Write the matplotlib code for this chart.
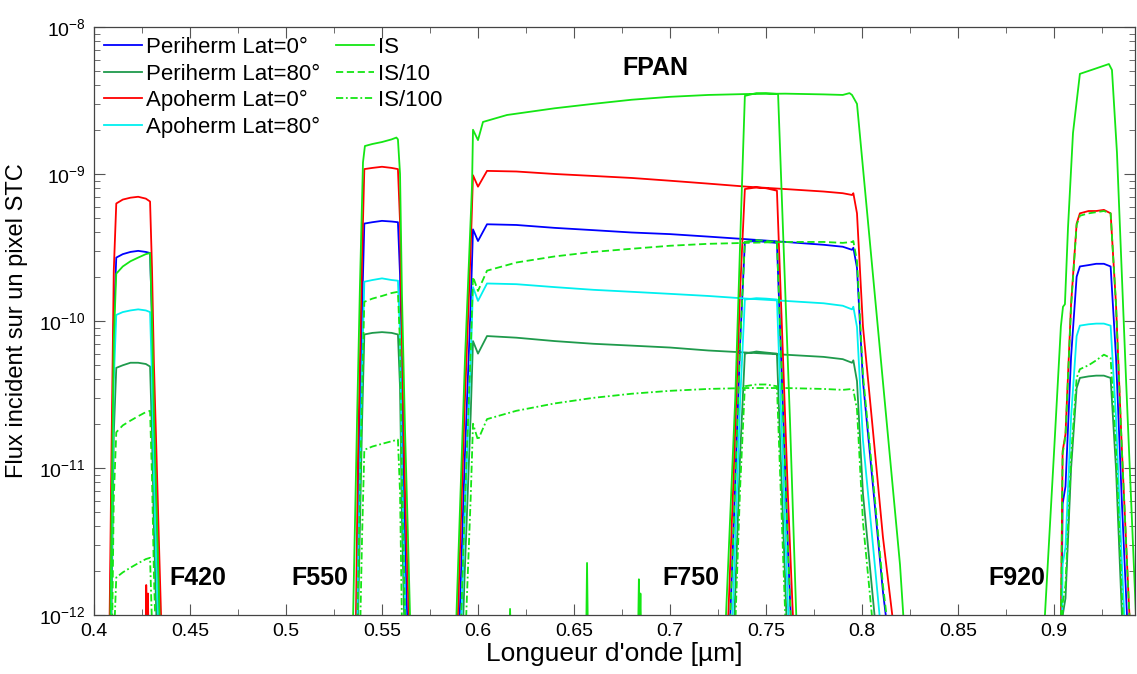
import numpy as np
import matplotlib
matplotlib.use("Agg")
import matplotlib.pyplot as plt
from matplotlib.ticker import MultipleLocator, FormatStrFormatter, LogLocator, NullFormatter

plt.rcParams['font.family'] = ['Liberation Sans', 'DejaVu Sans']
plt.rcParams['mathtext.fontset'] = 'custom'
plt.rcParams['mathtext.rm'] = 'Liberation Sans'
plt.rcParams['mathtext.it'] = 'Liberation Sans:italic'
plt.rcParams['mathtext.bf'] = 'Liberation Sans:bold'

# ---- F420 band (shared wavelength grid, micron) ----
f420_x = [0.4078, 0.4092, 0.4103, 0.4116, 0.4150, 0.4190, 0.4230, 0.4270, 0.4292, 0.4302, 0.4312, 0.4325, 0.4340, 0.4358]
f420_peri0 = [1.7e-13, 6.8e-12, 9.6e-11, 2.7e-10, 2.85e-10, 2.95e-10, 3.0e-10, 2.95e-10, 2.9e-10, 1.03e-10, 2.3e-11, 5.8e-12, 1.16e-12, 1.7e-13]
f420_peri80 = [3e-14, 1.2e-12, 1.7e-11, 4.8e-11, 5.0e-11, 5.2e-11, 5.2e-11, 5.1e-11, 4.9e-11, 1.74e-11, 3.9e-12, 9.8e-13, 2e-13, 3e-14]
f420_apo0 = [4e-13, 1.6e-11, 2.2e-10, 6.3e-10, 6.7e-10, 6.9e-10, 7.0e-10, 6.8e-10, 6.5e-10, 2.3e-10, 5.2e-11, 1.3e-11, 2.6e-12, 4e-13]
f420_apo80 = [7e-14, 2.8e-12, 3.9e-11, 1.1e-10, 1.15e-10, 1.18e-10, 1.2e-10, 1.18e-10, 1.15e-10, 4.1e-11, 9.1e-12, 2.3e-12, 4.6e-13, 7e-14]
f420_is = [1.3e-13, 5.3e-12, 7.5e-11, 2.1e-10, 2.35e-10, 2.55e-10, 2.7e-10, 2.85e-10, 2.9e-10, 1.03e-10, 2.3e-11, 5.8e-12, 1.16e-12, 1.7e-13]
f420_is10 = [1.1e-14, 4.4e-13, 6.2e-12, 1.75e-11, 1.95e-11, 2.1e-11, 2.25e-11, 2.4e-11, 2.45e-11, 8.7e-12, 1.9e-12, 4.9e-13, 1e-13, 1.5e-14]
f420_is100 = [1.1e-15, 4.4e-14, 6.4e-13, 1.8e-12, 1.95e-12, 2.1e-12, 2.25e-12, 2.4e-12, 2.45e-12, 8.7e-13, 1.9e-13, 4.9e-14, 1e-14, 1.5e-15]

# ---- F550 band ----
f550_x = [0.5362, 0.5375, 0.5396, 0.5408, 0.5450, 0.5500, 0.5550, 0.5583, 0.5594, 0.5604, 0.5620, 0.5635, 0.5648]
f550_peri0 = [2.3e-13, 5.2e-12, 1.15e-10, 4.6e-10, 4.7e-10, 4.8e-10, 4.75e-10, 4.7e-10, 2.05e-10, 2.6e-11, 3.1e-12, 6.5e-13, 2.3e-13]
f550_peri80 = [4e-14, 9e-13, 2e-11, 8.1e-11, 8.3e-11, 8.4e-11, 8.3e-11, 8.1e-11, 3.5e-11, 4.5e-12, 5.3e-13, 1.1e-13, 4e-14]
f550_apo0 = [5.4e-13, 1.2e-11, 2.7e-10, 1.08e-9, 1.1e-9, 1.12e-9, 1.1e-9, 1.08e-9, 4.7e-10, 5.9e-11, 7.1e-12, 1.5e-12, 5.4e-13]
f550_apo80 = [9e-14, 2.1e-12, 4.6e-11, 1.85e-10, 1.9e-10, 1.95e-10, 1.9e-10, 1.88e-10, 8.2e-11, 1.03e-11, 1.24e-12, 2.6e-13, 9e-14]
f550_is10 = [7e-14, 1.5e-12, 3.4e-11, 1.35e-10, 1.42e-10, 1.48e-10, 1.55e-10, 1.58e-10, 6.9e-11, 8.7e-12, 1.04e-12, 2.2e-13, 8e-14]
f550_is100 = [7e-15, 1.5e-13, 3.3e-12, 1.33e-11, 1.4e-11, 1.46e-11, 1.52e-11, 1.56e-11, 6.8e-12, 8.6e-13, 1e-13, 2.2e-14, 8e-15]
f550_is_x = [0.5345, 0.5370, 0.5385, 0.5401, 0.5411, 0.5450, 0.5500, 0.5550, 0.5575, 0.5583, 0.5594, 0.5604, 0.5620, 0.5635, 0.5652]
f550_is = [5e-13, 2.1e-11, 1.7e-10, 1.2e-9, 1.55e-9, 1.6e-9, 1.65e-9, 1.72e-9, 1.77e-9, 1.72e-9, 1.0e-9, 1.5e-10, 1.8e-11, 3.5e-12, 5e-13]

# ---- FPAN band ----
fpan_x = [0.5888, 0.5930, 0.5962, 0.5974, 0.6000, 0.6047, 0.62, 0.64, 0.66, 0.68, 0.70, 0.72,
          0.74, 0.76, 0.78, 0.79, 0.7948, 0.7955, 0.7974, 0.8005, 0.8057, 0.8109, 0.8161, 0.8190]
fpan_peri0 = [2.1e-13, 1.05e-11, 1.3e-10, 4.2e-10, 3.5e-10, 4.55e-10, 4.5e-10, 4.3e-10, 4.15e-10, 4.0e-10, 3.9e-10, 3.75e-10,
              3.6e-10, 3.45e-10, 3.3e-10, 3.2e-10, 3.05e-10, 3.15e-10, 2.3e-10, 3.9e-11, 7.6e-12, 1.45e-12, 3.9e-13, 1.55e-13]
fpan_peri80 = [3.7e-14, 1.8e-12, 2.3e-11, 7.3e-11, 6.0e-11, 7.9e-11, 7.7e-11, 7.3e-11, 7.0e-11, 6.8e-11, 6.6e-11, 6.3e-11,
               6.1e-11, 5.9e-11, 5.7e-11, 5.5e-11, 5.2e-11, 5.4e-11, 3.9e-11, 6.7e-12, 1.3e-12, 2.5e-13, 6.7e-14, 2.6e-14]
fpan_apo0 = [5e-13, 2.5e-11, 3.1e-10, 9.8e-10, 8.2e-10, 1.05e-9, 1.04e-9, 1.0e-9, 9.7e-10, 9.4e-10, 9.0e-10, 8.6e-10,
             8.2e-10, 7.9e-10, 7.6e-10, 7.4e-10, 7.2e-10, 7.4e-10, 5.4e-10, 9.2e-11, 1.8e-11, 3.4e-12, 9.2e-13, 3.7e-13]
fpan_apo80 = [8.5e-14, 4.3e-12, 5.4e-11, 1.7e-10, 1.37e-10, 1.8e-10, 1.78e-10, 1.7e-10, 1.63e-10, 1.58e-10, 1.53e-10, 1.48e-10,
              1.42e-10, 1.37e-10, 1.32e-10, 1.27e-10, 1.2e-10, 1.25e-10, 9.1e-11, 1.55e-11, 3e-12, 5.7e-13, 1.55e-13, 6e-14]
fpan_is10 = [1e-13, 5e-12, 6.3e-11, 2.0e-10, 1.6e-10, 2.2e-10, 2.5e-10, 2.75e-10, 2.95e-10, 3.1e-10, 3.25e-10, 3.35e-10,
             3.4e-10, 3.45e-10, 3.45e-10, 3.4e-10, 3.45e-10, 3.5e-10, 2.55e-10, 4.3e-11, 8.5e-12, 1.6e-12, 4.3e-13, 1.7e-13]
fpan_is100 = [1e-14, 5e-13, 6.3e-12, 2.0e-11, 1.55e-11, 2.15e-11, 2.45e-11, 2.75e-11, 3.0e-11, 3.2e-11, 3.35e-11, 3.45e-11,
              3.5e-11, 3.5e-11, 3.45e-11, 3.4e-11, 3.45e-11, 3.4e-11, 2.5e-11, 4.3e-12, 8.4e-13, 1.6e-13, 4.3e-14, 1.7e-14]
fpan_is_x = [0.5880, 0.5932, 0.5969, 0.5974, 0.6000, 0.6026, 0.6151, 0.64, 0.66, 0.68, 0.70,
             0.72, 0.74, 0.76, 0.78, 0.79, 0.7935, 0.7948, 0.7974, 0.8198, 0.8235]
fpan_is = [5e-13, 5.4e-11, 8.4e-10, 2.0e-9, 1.7e-9, 2.26e-9, 2.52e-9, 2.8e-9, 3.0e-9, 3.2e-9, 3.35e-9,
           3.45e-9, 3.5e-9, 3.52e-9, 3.48e-9, 3.45e-9, 3.55e-9, 3.45e-9, 3.0e-9, 2.2e-12, 4e-13]

# ---- F750 band ----
f750_x = [0.7295, 0.7330, 0.7365, 0.7390, 0.7450, 0.7500, 0.7557, 0.7583, 0.7615, 0.7650]
f750_peri0 = [2.2e-13, 3.5e-12, 6.9e-11, 3.45e-10, 3.5e-10, 3.45e-10, 3.4e-10, 4e-11, 2.7e-12, 2.1e-13]
f750_peri80 = [3.8e-14, 6e-13, 1.2e-11, 6e-11, 6.2e-11, 6.1e-11, 6e-11, 7e-12, 4.8e-13, 3.8e-14]
f750_apo0 = [5e-13, 7.9e-12, 1.6e-10, 7.9e-10, 8.1e-10, 8.0e-10, 7.7e-10, 9.1e-11, 6.1e-12, 4.9e-13]
f750_apo80 = [9e-14, 1.4e-12, 2.8e-11, 1.4e-10, 1.43e-10, 1.42e-10, 1.4e-10, 1.65e-11, 1.1e-12, 8.8e-14]
f750_is10 = [2.2e-13, 3.5e-12, 6.9e-11, 3.45e-10, 3.55e-10, 3.5e-10, 3.45e-10, 4e-11, 2.7e-12, 2.2e-13]
f750_is100 = [2.3e-14, 3.6e-13, 7.2e-12, 3.6e-11, 3.7e-11, 3.7e-11, 3.6e-11, 4.2e-12, 2.9e-13, 2.3e-14]
f750_is_x = [0.7282, 0.7340, 0.7375, 0.7390, 0.7450, 0.7500, 0.7563, 0.7583, 0.7625, 0.7665]
f750_is = [5e-13, 3e-11, 8.5e-10, 3.4e-9, 3.55e-9, 3.55e-9, 3.5e-9, 6.6e-10, 2.1e-11, 5e-13]

# ---- F920 band ----
f920_x = [0.9035, 0.9045, 0.9060, 0.9089, 0.9118, 0.9135, 0.918, 0.922, 0.926, 0.9295, 0.9323, 0.9354, 0.9390, 0.9405]
f920_peri0 = [2.6e-13, 5.7e-12, 7.5e-12, 5.7e-11, 2.0e-10, 2.35e-10, 2.4e-10, 2.45e-10, 2.45e-10, 2.35e-10, 5.7e-11, 5.7e-12, 5.2e-13, 2.2e-13]
f920_peri80 = [4.6e-14, 9.9e-13, 1.3e-12, 9.9e-12, 3.5e-11, 4.1e-11, 4.2e-11, 4.25e-11, 4.25e-11, 4.1e-11, 9.9e-12, 9.9e-13, 9.1e-14, 3.8e-14]
f920_apo0 = [6e-13, 1.3e-11, 1.7e-11, 1.3e-10, 4.6e-10, 5.4e-10, 5.6e-10, 5.6e-10, 5.7e-10, 5.4e-10, 1.3e-10, 1.3e-11, 1.2e-12, 5e-13]
f920_apo80 = [1e-13, 2.2e-12, 2.9e-12, 2.2e-11, 7.9e-11, 9.3e-11, 9.5e-11, 9.6e-11, 9.6e-11, 9.3e-11, 2.2e-11, 2.2e-12, 2.1e-13, 9e-14]
f920_is10 = [5.8e-13, 1.25e-11, 1.65e-11, 1.25e-10, 4.5e-10, 5.2e-10, 5.4e-10, 5.5e-10, 5.6e-10, 5.4e-10, 1.3e-10, 1.3e-11, 1.2e-12, 5e-13]
f920_is100 = [6e-14, 1.2e-12, 1.6e-12, 1.2e-11, 4.1e-11, 4.7e-11, 5.0e-11, 5.4e-11, 5.9e-11, 5.6e-11, 1.35e-11, 1.35e-12, 1.2e-13, 5e-14]
f920_is_x = [0.8940, 0.9000, 0.9036, 0.9047, 0.9057, 0.9073, 0.9099, 0.9135, 0.9214, 0.9286, 0.9302, 0.9328, 0.9375, 0.9430]
f920_is = [5e-13, 1.26e-11, 9.2e-11, 1.25e-10, 1.3e-10, 4.3e-10, 1.9e-9, 4.8e-9, 5.2e-9, 5.6e-9, 5.1e-9, 1.4e-9, 4.1e-11, 8e-13]

# small noise spikes near the floor
is_spike_x = [0.6160, 0.6167, 0.6174, np.nan, 0.6562, 0.6568, 0.6574, np.nan, 0.6832, 0.6838, 0.6842, 0.6846, 0.6852]
is_spike_y = [5e-13, 1.1e-12, 5e-13, np.nan, 5e-13, 2.26e-12, 5e-13, np.nan, 5e-13, 1.75e-12, 8e-13, 1.4e-12, 5e-13]
apo_spike_x = [0.4268, 0.4272, 0.4277, 0.4281, 0.4285]
apo_spike_y = [5e-13, 1.6e-12, 8e-13, 1.4e-12, 5e-13]

band_labels = ['F420', 'F550', 'FPAN', 'F750', 'F920']
band_label_x = [0.4542, 0.5177, 0.6922, 0.7109, 0.8807]
band_label_y = [1.79e-12, 1.79e-12, 5.26e-9, 1.79e-12, 1.79e-12]


def join(*parts):
    # glue the bands together, NaN breaks the line between bands
    out = []
    for p in parts:
        out.extend(p)
        out.append(np.nan)
    return np.array(out[:-1], dtype=float)


band_x = join(f420_x, f550_x, fpan_x, f750_x, f920_x)
is_x = join(f420_x, f550_is_x, fpan_is_x, f750_is_x, f920_is_x)

green = '#14e614'
series = [
    ('Periherm Lat=0°', band_x, join(f420_peri0, f550_peri0, fpan_peri0, f750_peri0, f920_peri0), '#0000ff', '-'),
    ('Periherm Lat=80°', band_x, join(f420_peri80, f550_peri80, fpan_peri80, f750_peri80, f920_peri80), '#1f9a4c', '-'),
    ('Apoherm Lat=0°', band_x, join(f420_apo0, f550_apo0, fpan_apo0, f750_apo0, f920_apo0), '#ff0000', '-'),
    ('Apoherm Lat=80°', band_x, join(f420_apo80, f550_apo80, fpan_apo80, f750_apo80, f920_apo80), '#00f0f0', '-'),
    ('IS', is_x, join(f420_is, f550_is, fpan_is, f750_is, f920_is), green, '-'),
    ('IS/10', band_x, join(f420_is10, f550_is10, fpan_is10, f750_is10, f920_is10), green, (0, (4, 2))),
    ('IS/100', band_x, join(f420_is100, f550_is100, fpan_is100, f750_is100, f920_is100), green, (0, (4, 1.5, 1, 1.5))),
]

fig = plt.figure(figsize=(11.37, 6.74), dpi=100)
ax = fig.add_axes([94 / 1137, 59 / 674, 1041 / 1137, 588 / 674])

for label, x, y, color, ls in series:
    ax.plot(x, y, color=color, linestyle=ls, linewidth=1.3, label=label)

ax.plot(is_spike_x, is_spike_y, color=green, linewidth=1.3)
ax.plot(apo_spike_x, apo_spike_y, color='#ff0000', linewidth=1.3)

for txt, tx, ty in zip(band_labels, band_label_x, band_label_y):
    ax.text(tx, ty, txt, ha='center', va='center', fontsize=18, fontweight='bold')

ax.set_yscale('log')
ax.set_xlim(0.4, 0.9422)
ax.set_ylim(1e-12, 1e-8)
ax.xaxis.set_major_locator(MultipleLocator(0.05))
ax.xaxis.set_minor_locator(MultipleLocator(0.025))
ax.xaxis.set_major_formatter(FormatStrFormatter('%g'))
ax.yaxis.set_major_locator(LogLocator(base=10, numticks=10))
ax.yaxis.set_minor_locator(LogLocator(base=10, subs=np.arange(2, 10), numticks=20))
ax.yaxis.set_minor_formatter(NullFormatter())

ax.tick_params(which='both', direction='in', top=True, right=True, color='#555555', labelsize=14)
ax.tick_params(which='major', length=8)
ax.tick_params(which='minor', length=4)
ax.tick_params(axis='x', pad=6)
ax.tick_params(axis='y', pad=6)
for sp in ax.spines.values():
    sp.set_color('#444444')
    sp.set_linewidth(0.9)

ax.set_xlabel("Longueur d'onde [µm]", fontsize=19, labelpad=1)
ax.set_ylabel('Flux incident sur un pixel STC', fontsize=17, labelpad=8)

ax.legend(loc='upper left', ncol=2, frameon=False, fontsize=16, handlelength=1.7,
          handletextpad=0.2, columnspacing=0.7, labelspacing=0.25, borderpad=0.2, borderaxespad=0.25)

fig.savefig('out.png', dpi=100)
